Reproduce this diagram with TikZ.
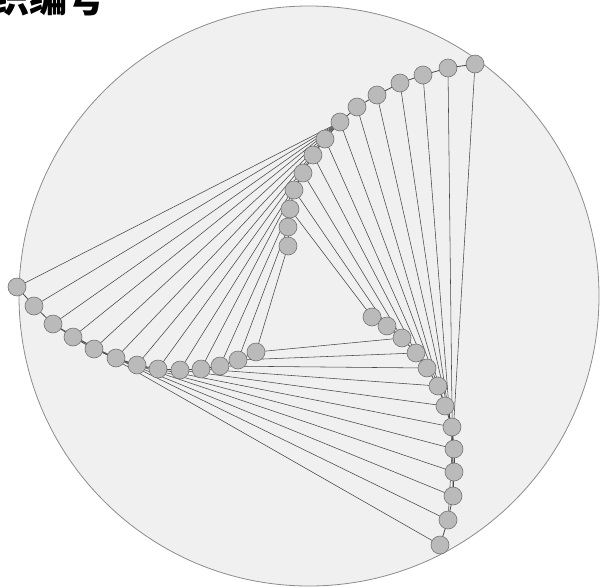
\documentclass[tikz,border=0pt]{standalone}
\usepackage{fontspec}
\newfontfamily\cjk{Noto Sans CJK SC}
\usetikzlibrary{backgrounds}

\begin{document}
\begin{tikzpicture}[
    x=1pt, y=-1pt,
    disc/.style={draw=black!45, fill=black!6, line width=0.8pt},
    spot/.style={
        circle, draw=black!55, fill=black!27, line width=0.6pt,
        minimum size=18pt, inner sep=0pt
    },
    chord/.style={draw=black!72, line width=0.55pt},
    link/.style={draw=black!72, line width=0.8pt},
    heading/.style={font=\cjk\bfseries\fontsize{38}{38}\selectfont, inner sep=0pt}
]
\useasboundingbox (0,0) rectangle (603,587);

% ---------------- Heading (cut at the page edge) ----------------
\node[heading, anchor=base west] (title) at (-9,12) {织编号};

% ---------------- Three chains of spots ----------------
\foreach \x/\y [count=\i] in {475/64, 448/68, 423/75, 400/83, 377/95, 357/107,
    340/122, 325/139, 313/155, 303/173, 294/190, 290/209, 288/227, 288/246}
    \node[spot] (a\i) at (\x,\y) {};
\foreach \x/\y [count=\i] in {17/287, 34/306, 53/324, 73/337, 94/349, 116/358,
    137/365, 158/369, 180/370, 201/369, 220/366, 238/360, 256/352}
    \node[spot] (b\i) at (\x,\y) {};
\foreach \x/\y [count=\i] in {372/317, 387/326, 402/338, 416/353, 427/368, 438/386,
    445/406, 452/427, 454/449, 454/472, 453/496, 448/520, 440/545}
    \node[spot] (c\i) at (\x,\y) {};

\begin{scope}[on background layer]
    % ---------------- Disc ----------------
    \draw[disc] (309,296) circle[radius=290];

    % ---------------- Chords ----------------
    \foreach \i in {1,...,12} {
        \pgfmathtruncatemacro\j{13-\i}
        \draw[chord] (a\i.center) -- (c\j.center);
    }
    \foreach \i in {3,...,13} {
        \pgfmathtruncatemacro\j{16-\i}
        \draw[chord] (b\i.center) -- (c\j.center);
    }
    \foreach \i in {1,...,6}
        \draw[chord] (b\i.center) -- (a7.center);
    \foreach \i in {7,...,13} {
        \pgfmathtruncatemacro\j{\i+1}
        \draw[chord] (b\i.center) -- (a\j.center);
    }

    % ---------------- Links along the chains ----------------
    \foreach \i in {1,...,13} {
        \pgfmathtruncatemacro\j{\i+1}
        \draw[link] (a\i.center) -- (a\j.center);
    }
    \foreach \i in {1,...,12} {
        \pgfmathtruncatemacro\j{\i+1}
        \draw[link] (b\i.center) -- (b\j.center);
        \draw[link] (c\i.center) -- (c\j.center);
    }
\end{scope}

\end{tikzpicture}
\end{document}
